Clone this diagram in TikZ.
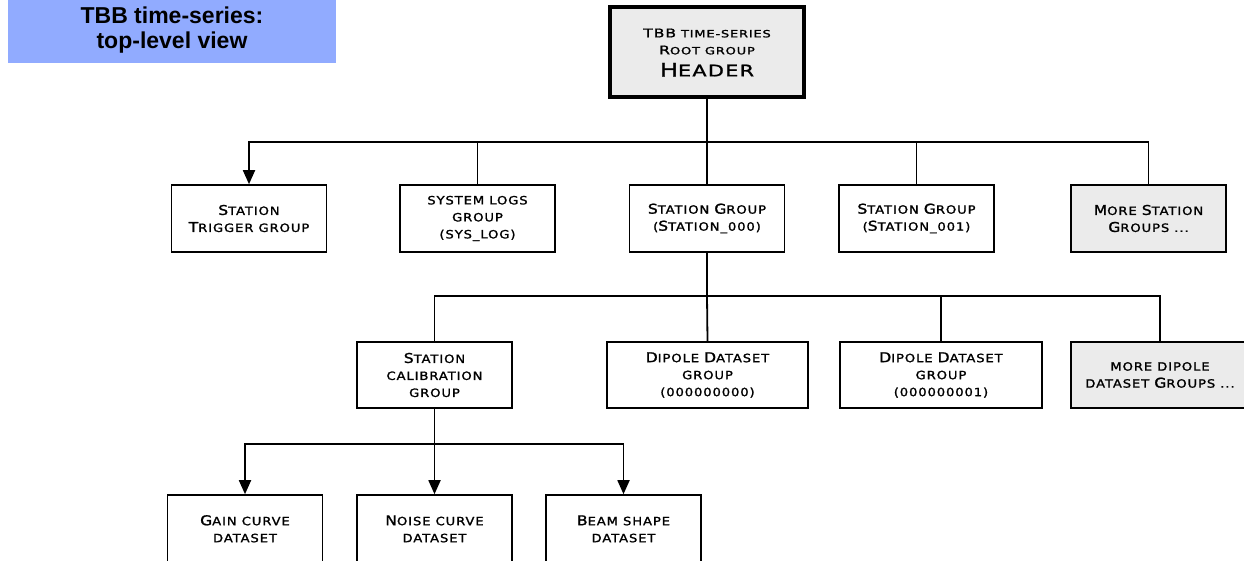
\documentclass[tikz,border=0pt]{standalone}
\usepackage{fontspec}
\setmainfont{DejaVu Sans}
\newfontfamily\cpfont[FakeStretch=1.15,LetterSpace=8,FakeBold=1.5]{DejaVu Sans}
\newfontfamily\cpwide[FakeStretch=1.3,LetterSpace=8,FakeBold=1.5]{DejaVu Sans}
\newfontfamily\titlefont{Liberation Sans}
\usetikzlibrary{arrows.meta}
\definecolor{titleblue}{RGB}{145,171,255}
\definecolor{boxgray}{RGB}{235,235,235}
% bigger capital inside the small caps text
\newcommand{\bc}[1]{{\fontsize{13.5}{17}\selectfont #1}}

\begin{document}
\begin{tikzpicture}[x=1pt,y=-1pt,
    grp/.style={draw,line width=1.6pt,minimum width=155pt,minimum height=67pt,
        align=center,inner sep=0pt,font=\cpfont\fontsize{11.4}{17}\selectfont},
    moregrp/.style={grp,fill=boxgray},
    txt/.style={align=center,inner sep=0pt,font=\cpfont\fontsize{11.4}{17}\selectfont},
    wire/.style={line width=1.8pt},
    link/.style={line width=1.8pt,-{Triangle[length=14pt,width=12pt]}}]
    \useasboundingbox (0,0) rectangle (1244,561);
    \clip (0,0) rectangle (1244,561);

    % title and root
    \node[fill=titleblue,minimum width=328pt,minimum height=66pt,align=center,
        font=\titlefont\bfseries\fontsize{23}{25}\selectfont] (title) at (172,30)
        {TBB time-series:\\top-level view};
    \node[grp,fill=boxgray,line width=4pt,minimum width=194pt,minimum height=90pt,
        font=\cpwide\fontsize{10}{17}\selectfont] (root) at (707,52.5)
        {{\fontsize{12}{17}\selectfont TBB} TIME-SERIES\\
         {\fontsize{12}{17}\selectfont R}OOT GROUP\\[5pt]
         {\fontsize{18.5}{20}\selectfont H}{\fontsize{16}{20}\selectfont EADER}};

    % first level
    \node[grp] (trig) at (249,218.5) {{\bc S}TATION\\{\bc T}RIGGER GROUP};
    \node[grp] (syslog) at (477.5,218.5) {SYSTEM LOGS\\GROUP\\(SYS\_LOG)};
    \node[grp] (st0) at (707,218.5) {{\bc S}TATION {\bc G}ROUP\\({\bc S}TATION\_000)};
    \node[grp] (st1) at (916.5,218.5) {{\bc S}TATION {\bc G}ROUP\\({\bc S}TATION\_001)};
    \node[moregrp] (morest) at (1148.5,218.5) {{\bc M}ORE {\bc S}TATION\\{\bc G}ROUPS ...};

    % second level
    \node[grp,minimum height=66pt] (calib) at (434.5,375) {{\bc S}TATION\\CALIBRATION\\GROUP};
    \node[grp,minimum width=201pt,minimum height=66pt] (dip0) at (707.5,375)
        {{\bc D}IPOLE {\bc D}ATASET\\GROUP\\(000000000)};
    \node[grp,minimum width=202pt,minimum height=66pt] (dip1) at (941,375)
        {{\bc D}IPOLE {\bc D}ATASET\\GROUP\\(000000001)};
    \node[moregrp,minimum width=178pt,minimum height=66pt] (moredip) at (1160,375)
        {MORE DIPOLE\\DATASET {\bc G}ROUPS ...};

    % third level
    \node[grp,minimum height=105pt] (gain) at (245,547.5) {};
    \node[grp,minimum height=105pt] (noise) at (434.5,547.5) {};
    \node[grp,minimum height=105pt] (beam) at (623.5,547.5) {};
    \node[txt,anchor=base] (gaint) at ([yshift=-48pt]gain.north) {{\bc G}AIN CURVE\\DATASET};
    \node[txt,anchor=base] (noiset) at ([yshift=-48pt]noise.north) {{\bc N}OISE CURVE\\DATASET};
    \node[txt,anchor=base] (beamt) at ([yshift=-48pt]beam.north) {{\bc B}EAM SHAPE\\DATASET};

    % connectors
    \coordinate (bus1) at (707,142);
    \coordinate (bus2) at (707,296);
    \coordinate (bus3) at (434.5,444);
    \draw[link] (root.south) -- (bus1) -| (trig.north);
    \draw[wire] (bus1) -| (syslog.north);
    \draw[wire] (bus1) -- (st0.north);
    \draw[wire] (bus1) -| (st1.north);
    \draw[wire] (bus1) -| (morest.north);

    \draw[wire] (st0.south) -- (bus2) -| (calib.north);
    \draw[wire] (bus2) -- (dip0.north);
    \draw[wire] (bus2) -| (dip1.north);
    \draw[wire] (bus2) -| (moredip.north);

    \draw[link] (calib.south) -- (noise.north);
    \draw[link] (bus3) -| (gain.north);
    \draw[link] (bus3) -| (beam.north);
\end{tikzpicture}
\end{document}
